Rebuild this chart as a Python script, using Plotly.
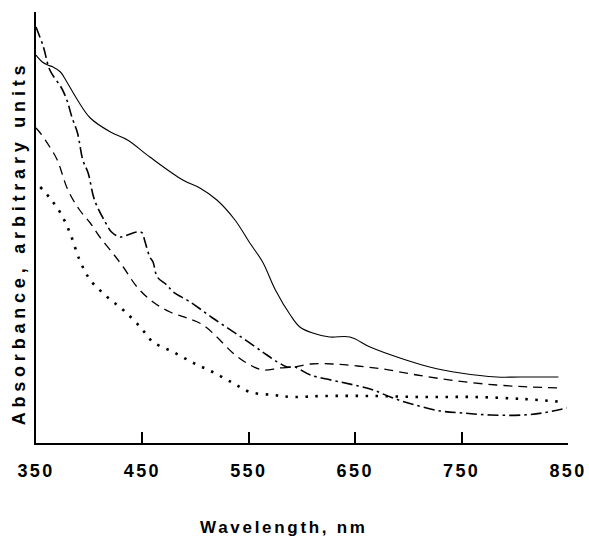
import plotly.graph_objects as go

# Wavelength (nm) / absorbance (arbitrary units)
solid_wl = [350, 356, 361, 366, 373, 379, 389, 401, 420, 436, 457, 488, 504, 520, 537, 551,
            563, 575, 589, 598, 610, 626, 645, 664, 692, 720, 749, 783, 805, 841]
solid_abs = [388, 381, 378, 376, 371, 361, 343, 325, 311, 303, 286, 263, 255, 243, 223, 200,
             181, 153, 128, 116, 110, 106, 106, 96, 85, 76, 70, 66, 66, 66]

dashdot_wl = [350, 357, 363, 374, 379, 384, 389, 394, 399, 405, 415, 421, 429, 436, 445, 450,
              452, 457, 460, 464, 473, 479, 495, 516, 540, 563, 577, 586, 593, 608, 636, 653,
              667, 683, 703, 730, 751, 777, 808, 826, 849]
dashdot_abs = [416, 396, 373, 355, 343, 325, 310, 283, 270, 243, 221, 211, 206, 208, 211, 210,
               203, 186, 181, 166, 158, 151, 141, 125, 108, 91, 81, 76, 76, 68, 61, 57,
               53, 46, 39, 32, 30, 28, 28, 30, 35]

dashed_wl = [350, 354, 363, 370, 380, 391, 401, 410, 422, 432, 445, 460, 476, 492, 507, 520,
             535, 548, 563, 579, 593, 608, 629, 652, 676, 708, 746, 783, 814, 845]
dashed_abs = [315, 310, 296, 283, 253, 233, 220, 206, 190, 176, 156, 141, 131, 125, 118, 106,
              90, 80, 73, 75, 76, 79, 79, 77, 74, 68, 62, 58, 56, 55]

dotted_wl = [354, 363, 373, 382, 391, 401, 417, 432, 448, 460, 479, 498, 516, 535, 551, 573,
             592, 620, 667, 714, 761, 808, 845]
dotted_abs = [256, 245, 230, 210, 183, 163, 146, 133, 116, 101, 91, 80, 71, 60, 51, 48,
              46, 47, 47, 46, 46, 44, 41]

tick_vals = [350, 450, 550, 650, 750, 850]
tick_text = ["350", "450", "550", "650", "750", "850"]

fig = go.Figure()
fig.add_trace(go.Scatter(x=solid_wl, y=solid_abs, mode="lines", line_shape="spline",
                         line=dict(color="black", width=1.1), showlegend=False))
fig.add_trace(go.Scatter(x=dashdot_wl, y=dashdot_abs, mode="lines", line_shape="spline",
                         line=dict(color="black", width=1.6, dash="11px,4px,2.5px,4px"),
                         showlegend=False))
fig.add_trace(go.Scatter(x=dashed_wl, y=dashed_abs, mode="lines", line_shape="spline",
                         line=dict(color="black", width=1.3, dash="9px,6px"), showlegend=False))
fig.add_trace(go.Scatter(x=dotted_wl, y=dotted_abs, mode="lines", line_shape="spline",
                         line=dict(color="black", width=2.6, dash="2.5px,7.5px"),
                         showlegend=False))

font_family = "Liberation Sans, Arial, sans-serif"

fig.update_layout(
    width=589, height=536,
    margin=dict(l=36, r=21, t=12, b=93),
    paper_bgcolor="white", plot_bgcolor="white",
    xaxis=dict(range=[350, 850], tickvals=tick_vals, ticktext=tick_text,
               ticks="inside", ticklen=11, tickwidth=1.6, tickcolor="black",
               showline=True, linecolor="black", linewidth=1.8, showgrid=False,
               zeroline=False, ticklabelstandoff=10, automargin=False,
               tickfont=dict(family=font_family, size=18, color="black", weight="bold")),
    yaxis=dict(range=[0, 431], showticklabels=False, ticks="", showline=True,
               linecolor="black", linewidth=1.8, showgrid=False, zeroline=False,
               automargin=False),
    annotations=[
        dict(text="Wavelength, nm", xref="paper", yref="paper", x=0.467, y=-0.195,
             xanchor="center", yanchor="middle", showarrow=False,
             font=dict(family=font_family, size=17, color="black", weight="bold")),
        dict(text="Absorbance, arbitrary units", xref="paper", yref="paper", x=-0.032, y=0.465,
             xanchor="center", yanchor="middle", showarrow=False, textangle=-90,
             font=dict(family=font_family, size=18, color="black", weight="bold")),
    ],
)

post = """
document.body.style.margin = '0';
document.body.style.padding = '0';
var gd = document.getElementById('{plot_id}');
function ls(){
  var a = gd.querySelectorAll('.annotation-text');
  a.forEach(function(t){
    var s = t.textContent;
    if (s.indexOf('Absorbance') === 0) { t.style.letterSpacing = '4.8px'; }
    else if (s.indexOf('Wavelength') === 0) { t.style.letterSpacing = '2.7px'; }
  });
  gd.querySelectorAll('.xtick text').forEach(function(t){ t.style.letterSpacing = '2.4px'; });
}
ls();
if (gd.on) { gd.on('plotly_afterplot', ls); }
setTimeout(ls, 50);
"""

fig.write_html("out.html", post_script=post, config={"displayModeBar": False})
